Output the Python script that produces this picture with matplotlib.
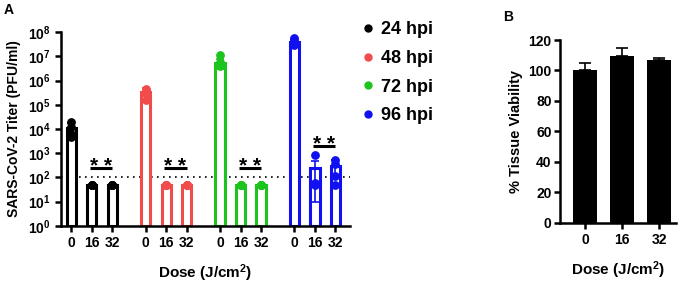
import numpy as np
import matplotlib.pyplot as plt
from matplotlib.lines import Line2D

plt.rcParams['font.family'] = ['Liberation Sans', 'DejaVu Sans']
plt.rcParams['font.weight'] = 'bold'
plt.rcParams['mathtext.fontset'] = 'custom'
plt.rcParams['mathtext.rm'] = 'Liberation Sans:bold'
plt.rcParams['mathtext.bf'] = 'Liberation Sans:bold'
plt.rcParams['mathtext.default'] = 'bf'

# panel A data: SARS-CoV-2 titer (PFU/ml)
hpi_labels = ['24 hpi', '48 hpi', '72 hpi', '96 hpi']
hpi_colors = ['#000000', '#f24b4b', '#1ec41e', '#1010f0']
dose_labels = ['0', '16', '32']

titer_mean = [
    [1.1e4, 50, 50],
    [3.5e5, 50, 50],
    [5.5e6, 50, 50],
    [3.8e7, 250, 300],
]
titer_sd = [
    [6e3, 0, 0],
    [1.2e5, 0, 0],
    [2.5e6, 0, 0],
    [1.2e7, 240, 200],
]
titer_points = [
    [[2.0e4, 1.2e4, 6e3, 4.5e3], [50, 50, 50, 50], [50, 50, 50, 50]],
    [[4.5e5, 3.8e5, 3.0e5, 1.6e5], [50, 50, 50, 50], [50, 50, 50, 50]],
    [[1.1e7, 6e6, 5e6, 4e6], [50, 50, 50, 50], [50, 50, 50, 50]],
    [[5.5e7, 4.5e7, 3.5e7, 2.8e7], [800, 60, 50], [520, 350, 110, 50]],
]
sig_y = [235, 235, 235, 2000]
lod = 100
ytick_vals = [1e0, 1e1, 1e2, 1e3, 1e4, 1e5, 1e6, 1e7, 1e8]
ytick_labels = ['$10^{0}$', '$10^{1}$', '$10^{2}$', '$10^{3}$', '$10^{4}$',
                '$10^{5}$', '$10^{6}$', '$10^{7}$', '$10^{8}$']

# panel B data: tissue viability
via_labels = ['0', '16', '32']
via_mean = [100, 109.5, 107.2]
via_sd = [4.7, 5.0, 1.3]

fig = plt.figure(figsize=(6.85, 2.84), dpi=100)
axA = fig.add_axes([0.089, 0.205, 0.422, 0.682])
axB = fig.add_axes([0.8175, 0.216, 0.1695, 0.643])

group_step = 3.63
axA.set_yscale('log')
xpos_all = []
xlab_all = []
for g in range(len(hpi_labels)):
    col = hpi_colors[g]
    xs = g * group_step + np.arange(len(dose_labels))
    means = np.array(titer_mean[g], dtype=float)
    axA.bar(xs, means - 1, bottom=1, width=0.45, color='white',
            edgecolor=col, linewidth=2.2, zorder=2)
    axA.errorbar(xs, means, yerr=titer_sd[g], fmt='none', ecolor=col,
                 elinewidth=1.2, capsize=3, capthick=1.2, zorder=3)
    for i, pts in enumerate(titer_points[g]):
        axA.scatter(np.full(len(pts), xs[i]), pts, s=28, color=col,
                    zorder=4, clip_on=False)
    # significance bar between 16 and 32
    axA.plot([xs[1] - 0.1, xs[2]], [sig_y[g], sig_y[g]], color='black',
             lw=2.2, solid_capstyle='butt', zorder=5)
    axA.text((xs[1] + xs[2]) / 2 - 0.05, sig_y[g] * 0.7, '* *', ha='center',
             va='baseline', fontsize=15, fontweight='bold')
    xpos_all += list(xs)
    xlab_all += dose_labels

axA.axhline(lod, color='black', ls=(0, (1, 2.6)), lw=1.2, zorder=1)
axA.set_xlim(-0.5, 13.6)
axA.set_ylim(1, 1e8)
axA.set_yticks(ytick_vals)
axA.set_yticklabels(ytick_labels)
axA.minorticks_off()
axA.set_xticks(xpos_all)
axA.set_xticklabels(xlab_all)
axA.tick_params(axis='y', labelsize=10, width=1.8, length=4.5, pad=3)
axA.tick_params(axis='x', labelsize=10, width=1.8, length=4.5, pad=3)
axA.set_ylabel('SARS-CoV-2 Titer (PFU/ml)', fontsize=10, fontweight='bold', labelpad=5)
axA.set_xlabel('Dose (J/cm$^2$)', fontsize=11, fontweight='bold', labelpad=9)
for side in ['top', 'right']:
    axA.spines[side].set_visible(False)
for side in ['left', 'bottom']:
    axA.spines[side].set_linewidth(1.8)

handles = [Line2D([], [], marker='o', ls='none', color=c, markersize=5)
           for c in hpi_colors]
fig.legend(handles, hpi_labels, loc='upper left', bbox_to_anchor=(0.516, 0.95),
           frameon=False, fontsize=13, handletextpad=0.35, labelspacing=0.64,
           handlelength=0.8, borderaxespad=0)

# panel B
xb = np.arange(len(via_labels))
axB.bar(xb, via_mean, width=0.65, color='black', zorder=2)
axB.errorbar(xb, via_mean, yerr=[np.zeros(len(via_sd)), via_sd], fmt='none',
             ecolor='black', elinewidth=1.2, capsize=4.3, capthick=1.2, zorder=1)
axB.set_xlim(-0.68, 2.46)
axB.set_ylim(0, 120)
axB.set_yticks(np.arange(0, 121, 20))
axB.set_xticks(xb)
axB.set_xticklabels(via_labels)
axB.tick_params(axis='y', labelsize=10, width=1.8, length=4, pad=2)
axB.tick_params(axis='x', labelsize=10, width=1.8, length=4.5, pad=3)
axB.set_ylabel('% Tissue Viability', fontsize=10.5, fontweight='bold', labelpad=4)
axB.set_xlabel('Dose (J/cm$^2$)', fontsize=11, fontweight='bold', labelpad=9)
for side in ['top', 'right']:
    axB.spines[side].set_visible(False)
for side in ['left', 'bottom']:
    axB.spines[side].set_linewidth(1.8)

fig.text(0.006, 0.99, 'A', fontsize=10, fontweight='bold', va='top')
fig.text(0.735, 0.965, 'B', fontsize=10, fontweight='bold', va='top')

fig.savefig('out.png', dpi=100)
